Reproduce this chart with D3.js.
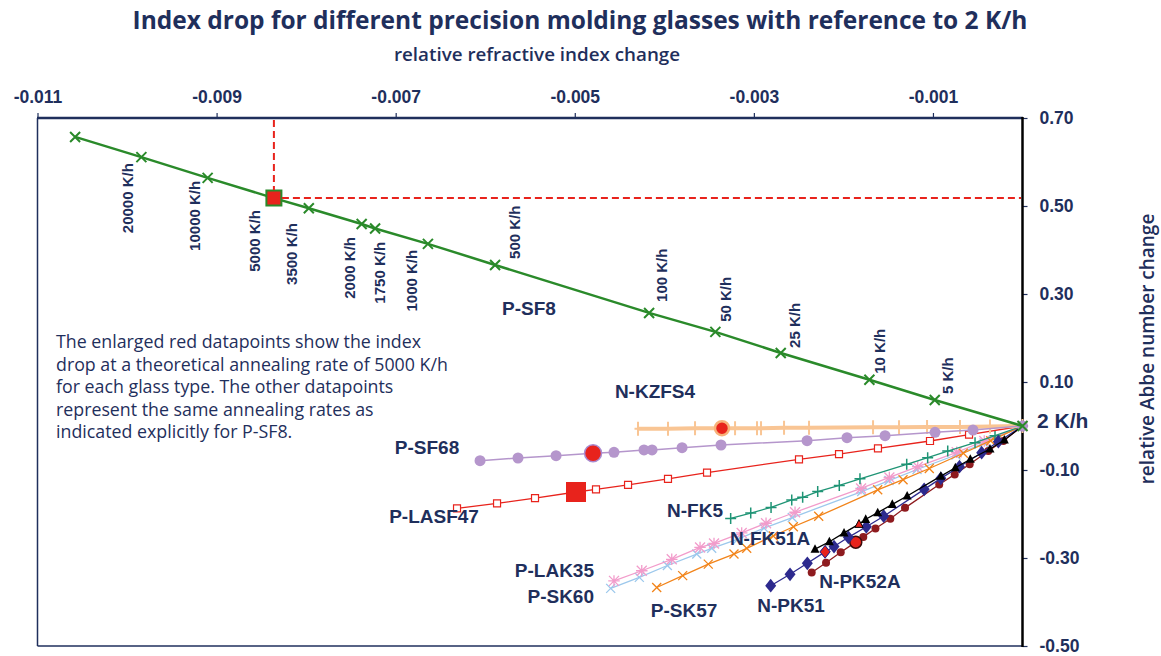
<!DOCTYPE html>
<html><head><meta charset="utf-8">
<script src="https://cdn.jsdelivr.net/npm/d3@7"></script>
<style>body{margin:0;background:#fff} svg{display:block}</style>
</head><body><svg id="c" width="1161" height="656"></svg>
<script>
// ---------- DATA ----------
const rates = [50000, 20000, 10000, 5000, 3500, 2000, 1750, 1000, 500, 100, 50, 25, 10, 5, 2];
const rateLabels = ["", "20000 K/h", "10000 K/h", "5000 K/h", "3500 K/h", "2000 K/h", "1750 K/h", "1000 K/h",
  "500 K/h", "100 K/h", "50 K/h", "25 K/h", "10 K/h", "5 K/h", "2 K/h"];
const xTicks = [-0.011, -0.009, -0.007, -0.005, -0.003, -0.001];
const yTicks = [0.70, 0.50, 0.30, 0.10, -0.10, -0.30, -0.50];

const pSF8_x = [-0.01058, -0.00984, -0.00910, -0.00836, -0.00797, -0.00738, -0.00723, -0.00664, -0.00589, -0.00417, -0.00343, -0.00270, -0.00171, -0.00098, 0];
const pSF8_y = [0.657, 0.611, 0.564, 0.518, 0.495, 0.459, 0.449, 0.414, 0.366, 0.257, 0.214, 0.166, 0.105, 0.059, 0];

const nKZFS4_x = [-0.004294, -0.003959, -0.003657, -0.003356, -0.003210, -0.002965, -0.002920, -0.002663, -0.002384, -0.001669, -0.001379, -0.001066, -0.000698, -0.000363, 0];
const nKZFS4_y = [-0.006, -0.006, -0.005, -0.005, -0.005, -0.005, -0.005, -0.004, -0.004, -0.003, -0.003, -0.002, -0.002, -0.001, 0];

const pSF68_x = [-0.006058, -0.005634, -0.005209, -0.004796, -0.004562, -0.004227, -0.004137, -0.003802, -0.003367, -0.002406, -0.001960, -0.001535, -0.000977, -0.000553, 0];
const pSF68_y = [-0.0789, -0.0727, -0.0675, -0.0620, -0.0598, -0.0545, -0.0545, -0.0493, -0.0432, -0.0334, -0.0266, -0.0220, -0.0143, -0.0091, 0];

const pLASF47_x = [-0.006315, -0.005868, -0.005444, -0.004986, -0.004763, -0.004405, -0.003959, -0.003523, -0.002496, -0.002049, -0.001614, -0.001033, -0.000597, 0];
const pLASF47_y = [-0.187, -0.176, -0.164, -0.150, -0.144, -0.134, -0.120, -0.106, -0.0757, -0.0641, -0.0507, -0.0341, -0.0198, 0];

const nFK5_x = [-0.003259, -0.003035, -0.002808, -0.002577, -0.002455, -0.002287, -0.002046, -0.001815, -0.001293, -0.001059, -0.000835, -0.000530, -0.000307, 0];
const nFK5_y = [-0.210, -0.198, -0.185, -0.168, -0.162, -0.149, -0.135, -0.120, -0.087, -0.072, -0.057, -0.038, -0.022, 0];

const pLAK35_x = [-0.004562, -0.004252, -0.003917, -0.003601, -0.003445, -0.003136, -0.002864, -0.002540, -0.001803, -0.001487, -0.001170, -0.000735, -0.000427, 0];
const pLAK35_y = [-0.352, -0.329, -0.303, -0.276, -0.267, -0.243, -0.221, -0.196, -0.142, -0.117, -0.0925, -0.0598, -0.0341, 0];

const pSK60_x = [-0.004599, -0.004279, -0.003966, -0.003638, -0.003471, -0.003177, -0.002887, -0.002571, -0.001796, -0.001491, -0.001178, -0.000743, -0.000430, 0];
const pSK60_y = [-0.369, -0.344, -0.317, -0.291, -0.278, -0.257, -0.232, -0.208, -0.149, -0.124, -0.0989, -0.0659, -0.0386, 0];

const pSK57_x = [-0.004085, -0.003795, -0.003509, -0.003222, -0.003080, -0.002783, -0.002559, -0.002276, -0.001617, -0.001334, -0.001041, -0.000661, -0.000355, 0];
const pSK57_y = [-0.367, -0.340, -0.314, -0.291, -0.278, -0.250, -0.229, -0.205, -0.145, -0.122, -0.0966, -0.0620, -0.0334, 0];

const nFK51A_x = [-0.002317, -0.002157, -0.001993, -0.001826, -0.001751, -0.001617, -0.001454, -0.001288, -0.000912, -0.000750, -0.000583, -0.000363, -0.000203, 0];
const nFK51A_y = [-0.280, -0.263, -0.243, -0.223, -0.212, -0.197, -0.178, -0.159, -0.114, -0.0948, -0.0755, -0.0523, -0.0318, 0];

const nPK51_x = [-0.002812, -0.002596, -0.002403, -0.002205, -0.002105, -0.001945, -0.001744, -0.001550, -0.001098, -0.000912, -0.000704, -0.000456, -0.000270, 0];
const nPK51_y = [-0.363, -0.337, -0.312, -0.286, -0.274, -0.253, -0.229, -0.205, -0.144, -0.119, -0.0925, -0.0607, -0.0357, 0];

const nPK52A_x = [-0.002354, -0.002194, -0.002030, -0.001862, -0.001778, -0.001642, -0.001476, -0.001312, -0.000930, -0.000757, -0.000590, -0.000382, -0.000214, 0];
const nPK52A_y = [-0.333, -0.311, -0.287, -0.264, -0.252, -0.233, -0.211, -0.186, -0.133, -0.110, -0.0868, -0.0568, -0.0341, 0];

const noteLines = [
  "The enlarged red datapoints show the index",
  "drop at a theoretical annealing rate of 5000 K/h",
  "for each glass type. The other datapoints",
  "represent the same annealing rates as",
  "indicated explicitly for P-SF8."
];

// ---------- LAYOUT ----------
const NAVY = "#1f2f5c", RED = "#e8231c";
const x = d3.scaleLinear().domain([-0.011, 0]).range([37.5, 1022.5]);
const y = d3.scaleLinear().domain([-0.5, 0.7]).range([646, 118]);
const svg = d3.select("#c");
const fmt = f => v => d3.format(f)(v).replace("\u2212", "-");

function zip(xs, ys) { return xs.map((v, i) => [v, ys[i]]); }

const series = [
  {name: "P-SK60", pts: zip(pSK60_x, pSK60_y), color: "#9cc8ec", lw: 1.3, marker: "x", ms: 4.5, sw: 1.3},
  {name: "P-LAK35", pts: zip(pLAK35_x, pLAK35_y), color: "#f29ccb", lw: 1.3, marker: "star", ms: 5, sw: 1.3},
  {name: "P-SK57", pts: zip(pSK57_x, pSK57_y), color: "#f2841a", lw: 1.3, marker: "x", ms: 4.5, sw: 1.3},
  {name: "N-FK5", pts: zip(nFK5_x, nFK5_y), color: "#1f9475", lw: 1.3, marker: "plus", ms: 5.5, sw: 1.5},
  {name: "N-PK52A", pts: zip(nPK52A_x, nPK52A_y), color: "#8e1b1f", lw: 1.3, marker: "circle", ms: 4, sw: 0,
    hi: {type: "circle", r: 6, fill: RED, stroke: "#3a0a0a", sw: 1.5}},
  {name: "N-PK51", pts: zip(nPK51_x, nPK51_y), color: "#2d2a8e", lw: 1.3, marker: "diamond", ms: 5.5, sw: 0,
    hi: {type: "diamond", r: 5, fill: RED, stroke: "#2d2a8e", sw: 1}},
  {name: "N-FK51A", pts: zip(nFK51A_x, nFK51A_y), color: "#000000", lw: 1.3, marker: "triangle", ms: 4.5, sw: 0,
    hi: {type: "triangle", r: 4, fill: RED, stroke: "#000", sw: 0.8}},
  {name: "P-LASF47", pts: zip(pLASF47_x, pLASF47_y), color: RED, lw: 1.3, marker: "osquare", ms: 3.5, sw: 1.2,
    hi: {type: "square", r: 10, fill: RED, stroke: "none", sw: 0}},
  {name: "N-KZFS4", pts: zip(nKZFS4_x, nKZFS4_y), color: "#f9c594", lw: 4, marker: "vbar", ms: 7, sw: 2,
    hi: {type: "circle", r: 7, fill: RED, stroke: "#f7b27a", sw: 2.5}},
  {name: "P-SF68", pts: zip(pSF68_x, pSF68_y), color: "#b596cc", lw: 1.5, marker: "circle", ms: 5.5, sw: 0,
    hi: {type: "circle", r: 8.5, fill: RED, stroke: "#a98bd0", sw: 1.5}},
  {name: "P-SF8", pts: zip(pSF8_x, pSF8_y), color: "#2a8a2a", lw: 2.5, marker: "x", ms: 5, sw: 2,
    hi: {type: "square", r: 7.5, fill: RED, stroke: "#2a8a2a", sw: 2}}
];

const labelPos = {
  "P-SF8": [529, 315, "middle"], "N-KZFS4": [655, 398, "middle"], "P-SF68": [427, 454, "middle"],
  "P-LASF47": [434, 523, "middle"], "N-FK5": [695, 517, "middle"], "N-FK51A": [770, 545, "middle"],
  "P-LAK35": [594, 577, "end"], "P-SK60": [594, 603, "end"], "P-SK57": [684, 617, "middle"],
  "N-PK52A": [860, 588, "middle"], "N-PK51": [791, 612, "middle"]
};

function markerPath(type, s) {
  switch (type) {
    case "x": return `M${-s},${-s}L${s},${s}M${-s},${s}L${s},${-s}`;
    case "plus": return `M${-s},0H${s}M0,${-s}V${s}`;
    case "vbar": return `M0,${-s}V${s}M${-s * 0.5},0H${s * 0.5}`;
    case "star": { const t = s * 1.15; return `M${-s},${-s}L${s},${s}M${-s},${s}L${s},${-s}M${-t},0H${t}M0,${-t}V${t}`; }
    case "osquare": case "square": return `M${-s},${-s}H${s}V${s}H${-s}Z`;
    case "circle": return d3.symbol().type(d3.symbolCircle).size(Math.PI * s * s)();
    case "diamond": return `M0,${-s * 1.25}L${s},0L0,${s * 1.25}L${-s},0Z`;
    case "triangle": return `M0,${-s * 1.1}L${s},${s * 0.8}L${-s},${s * 0.8}Z`;
  }
}
const filled = t => ["circle", "diamond", "triangle", "square"].includes(t);

// ---------- TITLES ----------
svg.append("text").attr("x", 580).attr("y", 29).attr("text-anchor", "middle")
  .attr("font-family", "Open Sans").attr("font-weight", 700).attr("font-size", 24.5)
  .attr("fill", NAVY).text("Index drop for different precision molding glasses with reference to 2 K/h");
svg.append("text").attr("x", 537).attr("y", 61).attr("text-anchor", "middle")
  .attr("font-family", "Open Sans").attr("font-weight", 600).attr("font-size", 18.8)
  .attr("fill", NAVY).text("relative refractive index change");
svg.append("text").attr("transform", "translate(1154,349) rotate(-90)").attr("text-anchor", "middle")
  .attr("font-family", "Open Sans").attr("font-weight", 600).attr("font-size", 19)
  .attr("fill", NAVY).text("relative Abbe number change");

// ---------- FRAME & AXES ----------
svg.append("line").attr("x1", 37.5).attr("x2", 37.5).attr("y1", 118).attr("y2", 646).attr("stroke", NAVY).attr("stroke-width", 1.5);
svg.append("line").attr("x1", 37.5).attr("x2", 1022.5).attr("y1", 646).attr("y2", 646).attr("stroke", NAVY).attr("stroke-width", 1.5);

const gTop = svg.append("g").attr("transform", "translate(0,118)")
  .call(d3.axisTop(x).tickValues(xTicks).tickSize(5).tickPadding(10).tickFormat(fmt(".3f")));
gTop.select(".domain").remove();
gTop.selectAll(".tick line").attr("stroke", NAVY).attr("stroke-width", 1.2);
gTop.selectAll(".tick text").attr("fill", NAVY).attr("font-family", "Liberation Sans, Arial")
  .attr("font-weight", 700).attr("font-size", 17.5);
svg.append("line").attr("x1", 37).attr("x2", 1023).attr("y1", 118).attr("y2", 118).attr("stroke", NAVY).attr("stroke-width", 2.5);

const gR = svg.append("g").attr("transform", "translate(1022.5,0)")
  .call(d3.axisRight(y).tickValues(yTicks).tickSize(5).tickPadding(12).tickFormat(fmt(".2f")));
gR.select(".domain").remove();
gR.selectAll(".tick line").attr("stroke", NAVY).attr("stroke-width", 1.2);
gR.selectAll(".tick text").attr("fill", NAVY).attr("font-family", "Liberation Sans, Arial")
  .attr("font-weight", 700).attr("font-size", 17.5);
svg.append("line").attr("x1", 1022.5).attr("x2", 1022.5).attr("y1", 117).attr("y2", 647).attr("stroke", "#000").attr("stroke-width", 2.5);

// ---------- SERIES ----------
const line = d3.line().x(d => x(d[0])).y(d => y(d[1]));
series.forEach(s => {
  const g = svg.append("g");
  g.append("path").attr("d", line(s.pts)).attr("fill", "none").attr("stroke", s.color).attr("stroke-width", s.lw);
  g.selectAll("path.m").data(s.pts).join("path").attr("class", "m")
    .attr("transform", d => `translate(${x(d[0])},${y(d[1])})`)
    .attr("d", markerPath(s.marker, s.ms))
    .attr("fill", filled(s.marker) ? s.color : (s.marker === "osquare" ? "#fff" : "none"))
    .attr("stroke", filled(s.marker) ? "none" : s.color)
    .attr("stroke-width", s.sw);
  if (s.hi) {
    const p = s.pts[3];
    g.append("path").attr("transform", `translate(${x(p[0])},${y(p[1])})`)
      .attr("d", markerPath(s.hi.type, s.hi.r))
      .attr("fill", s.hi.fill).attr("stroke", s.hi.stroke).attr("stroke-width", s.hi.sw);
  }
});

// red dashed guide lines through the P-SF8 5000 K/h point
const ref = zip(pSF8_x, pSF8_y)[3];
svg.append("line").attr("x1", x(ref[0])).attr("x2", x(ref[0])).attr("y1", 120).attr("y2", y(ref[1]) - 8)
  .attr("stroke", RED).attr("stroke-width", 2).attr("stroke-dasharray", "7,4");
svg.append("line").attr("x1", x(ref[0]) + 8).attr("x2", 1021).attr("y1", y(ref[1])).attr("y2", y(ref[1]))
  .attr("stroke", RED).attr("stroke-width", 2).attr("stroke-dasharray", "7,4");

// ---------- RATE LABELS (P-SF8) ----------
const rateOff = {
  20000: [-13.5, 6, "below"], 10000: [-13, 3, "below"], 5000: [-19, 12, "below"], 3500: [-17, 15, "below"],
  2000: [-12, 13, "below"], 1750: [4, 13.5, "below"], 1000: [-16, 6, "below"],
  500: [19, -6, "above"], 100: [12, -11, "above"], 50: [10, -10, "above"], 25: [14, -5, "above"],
  10: [10, -6, "above"], 5: [13, -6, "above"]
};
rates.forEach((r, i) => {
  const o = rateOff[r];
  if (!o || !rateLabels[i]) return;
  const px = x(pSF8_x[i]) + o[0] + 5.5, py = y(pSF8_y[i]) + o[1];
  svg.append("text").attr("transform", `translate(${px},${py}) rotate(-90)`)
    .attr("text-anchor", o[2] === "below" ? "end" : "start")
    .attr("font-family", "Liberation Sans, Arial").attr("font-weight", 700).attr("font-size", 15)
    .attr("fill", NAVY).text(rateLabels[i]);
});
svg.append("text").attr("x", 1037).attr("y", 428)
  .attr("font-family", "Liberation Sans, Arial").attr("font-weight", 700).attr("font-size", 21)
  .attr("fill", NAVY).text(rateLabels[rateLabels.length - 1]);

// ---------- SERIES LABELS ----------
series.forEach(s => {
  const lp = labelPos[s.name];
  svg.append("text").attr("x", lp[0]).attr("y", lp[1]).attr("text-anchor", lp[2])
    .attr("font-family", "Liberation Sans, Arial").attr("font-weight", 700).attr("font-size", 19)
    .attr("fill", NAVY).text(s.name);
});

// ---------- NOTE ----------
svg.append("text").attr("font-family", "Open Sans").attr("font-size", 17.8).attr("fill", NAVY)
  .selectAll("tspan").data(noteLines).join("tspan")
  .attr("x", 56).attr("y", (d, i) => 348 + i * 22.5).text(d => d);
</script></body></html>
